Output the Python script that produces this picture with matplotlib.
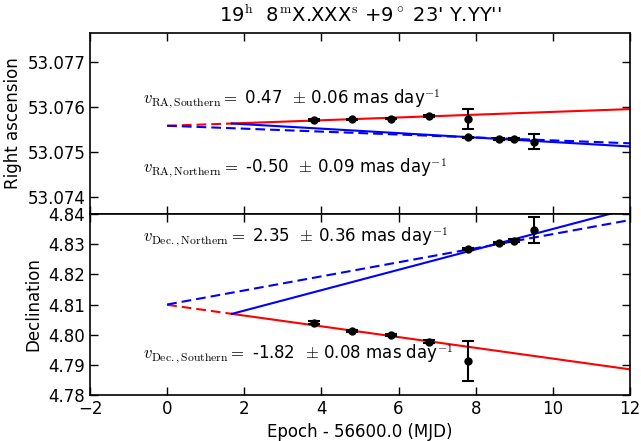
import matplotlib
matplotlib.use("Agg")
import matplotlib.pyplot as plt

plt.rcParams["font.family"] = "DejaVu Sans"
plt.rcParams["font.size"] = 12
plt.rcParams["mathtext.fontset"] = "cm"
plt.rcParams["lines.scale_dashes"] = False

# epochs (MJD - 56600)
epoch_south = [3.8, 4.8, 5.8, 6.8, 7.8]
epoch_north = [7.8, 8.6, 9.0, 9.5]

# right ascension (deg)
ra_south = [53.07570, 53.07572, 53.07574, 53.07579, 53.07573]
ra_south_err = [0.00002, 0.00002, 0.00002, 0.00002, 0.00022]
ra_north = [53.07532, 53.07528, 53.07528, 53.07523]
ra_north_err = [0.00002, 0.00002, 0.00002, 0.00017]

# declination (deg)
dec_south = [4.8040, 4.8013, 4.7999, 4.7977, 4.7913]
dec_south_err = [0.0004, 0.0004, 0.0004, 0.0005, 0.0067]
dec_north = [4.8284, 4.8303, 4.8312, 4.8347]
dec_north_err = [0.0004, 0.0004, 0.0004, 0.0044]

# fitted lines: ([x0, x1], [y0, y1])
t_split = 1.68
ra_red_dash = ([0.0, t_split], [53.07558, 53.07563])
ra_red_solid = ([t_split, 12.0], [53.07563, 53.07595])
ra_blue_solid = ([t_split, 12.0], [53.07563, 53.07512])
ra_blue_dash = ([0.0, 12.0], [53.07558, 53.07519])

dec_red_dash = ([0.0, t_split], [4.8099, 4.8069])
dec_red_solid = ([t_split, 12.0], [4.8069, 4.7885])
dec_blue_solid = ([t_split, 12.0], [4.8069, 4.8418])
dec_blue_dash = ([0.0, 12.0], [4.8100, 4.8380])

fig = plt.figure(figsize=(6.41, 4.41), dpi=100)
ax1 = fig.add_axes([90 / 641, 1 - 214 / 441, 540 / 641, 181 / 441])
ax2 = fig.add_axes([90 / 641, 1 - 395 / 441, 540 / 641, 181 / 441], sharex=ax1)

lw = 1.5
dash = (7, 3.6)
eb = dict(fmt="ko", ms=5, capsize=4, elinewidth=1.5, capthick=1.5)

ax1.plot(*ra_red_dash, "r--", lw=lw, dashes=dash)
ax1.plot(*ra_red_solid, "r-", lw=lw)
ax1.plot(*ra_blue_solid, "b-", lw=lw)
ax1.plot(*ra_blue_dash, "b--", lw=lw, dashes=dash)
ax1.errorbar(epoch_south, ra_south, yerr=ra_south_err, **eb)
ax1.errorbar(epoch_north, ra_north, yerr=ra_north_err, **eb)
ax1.text(-0.62, 53.07616, r"$v_{\rm RA,Southern} =$ 0.47  $\pm$ 0.06 mas day$^{-1}$",
         va="center", ha="left")
ax1.text(-0.62, 53.07464, r"$v_{\rm RA,Northern} =$ -0.50  $\pm$ 0.09 mas day$^{-1}$",
         va="center", ha="left")
ax1.set_ylim(53.07362, 53.07764)
ax1.set_yticks([53.074, 53.075, 53.076, 53.077])
ax1.yaxis.set_major_formatter(matplotlib.ticker.FormatStrFormatter("%.3f"))
ax1.set_ylabel("Right ascension")
ax1.set_title("19$^{\\rm h}$  8$^{\\rm m}$X.XXX$^{\\rm s}$ +9$^\\circ$ 23' Y.YY''",
              fontsize=14, pad=8)
plt.setp(ax1.get_xticklabels(), visible=False)

ax2.plot(*dec_red_dash, "r--", lw=lw, dashes=dash)
ax2.plot(*dec_red_solid, "r-", lw=lw)
ax2.plot(*dec_blue_solid, "b-", lw=lw)
ax2.plot(*dec_blue_dash, "b--", lw=lw, dashes=dash)
ax2.errorbar(epoch_south, dec_south, yerr=dec_south_err, **eb)
ax2.errorbar(epoch_north, dec_north, yerr=dec_north_err, **eb)
ax2.text(-0.62, 4.8324, r"$v_{\rm Dec.,Northern} =$ 2.35  $\pm$ 0.36 mas day$^{-1}$",
         va="center", ha="left")
ax2.text(-0.62, 4.7933, r"$v_{\rm Dec.,Southern} =$ -1.82  $\pm$ 0.08 mas day$^{-1}$",
         va="center", ha="left")
ax2.set_ylim(4.78, 4.84)
ax2.set_yticks([4.78, 4.79, 4.80, 4.81, 4.82, 4.83, 4.84])
ax2.yaxis.set_major_formatter(matplotlib.ticker.FormatStrFormatter("%.2f"))
ax2.set_ylabel("Declination")
ax2.set_xlim(-2, 12)
ax2.set_xlabel("Epoch - 56600.0 (MJD)")

for ax in (ax1, ax2):
    ax.tick_params(direction="in", length=6, width=1, top=True, right=True)
    for s in ax.spines.values():
        s.set_linewidth(1.2)

fig.savefig("out.png", dpi=100)
